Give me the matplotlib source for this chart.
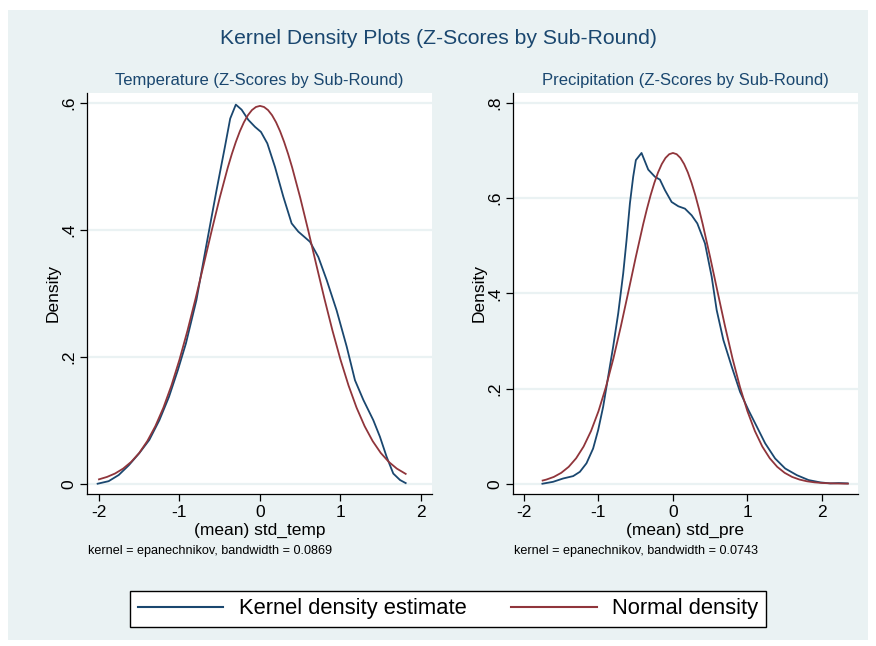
import matplotlib.pyplot as plt
from matplotlib.patches import Rectangle
from matplotlib.lines import Line2D

# ------------------------------
# Data
# ------------------------------
# Temperature panel: kernel density estimate
temp_kde_x = [-2.017, -1.88, -1.755, -1.63, -1.50, -1.375, -1.25, -1.13, -1.02, -0.92,
              -0.79, -0.67, -0.54, -0.435, -0.37, -0.30, -0.228, -0.145, -0.062, 0.012,
              0.091, 0.186, 0.29, 0.393, 0.476, 0.621, 0.725, 0.828, 0.952, 1.077,
              1.18, 1.284, 1.408, 1.49, 1.573, 1.656, 1.74, 1.81]
temp_kde_y = [0.0, 0.004, 0.0137, 0.029, 0.048, 0.069, 0.100, 0.137, 0.179, 0.221,
              0.289, 0.373, 0.462, 0.531, 0.575, 0.597, 0.589, 0.573, 0.562, 0.554,
              0.536, 0.499, 0.452, 0.410, 0.397, 0.381, 0.357, 0.321, 0.273, 0.216,
              0.163, 0.132, 0.100, 0.074, 0.0425, 0.016, 0.0058, 0.001]

# Temperature panel: normal density
temp_norm_x = [-2.0, -1.9, -1.8, -1.7, -1.6, -1.5, -1.4, -1.3, -1.2, -1.1, -1.0,
               -0.9, -0.8, -0.7, -0.6, -0.5, -0.4, -0.35, -0.3, -0.25, -0.2, -0.15, -0.1, -0.05, 0.0,
               0.05, 0.1, 0.15, 0.2, 0.25, 0.3, 0.35, 0.4, 0.5, 0.6, 0.7, 0.8, 0.9, 1.0,
               1.1, 1.2, 1.3, 1.4, 1.5, 1.6, 1.7, 1.81]
temp_norm_y = [0.0069, 0.0107, 0.0161, 0.0238, 0.0344, 0.0485, 0.0671, 0.0906, 0.1197, 0.1547, 0.1954,
               0.2414, 0.2917, 0.3447, 0.3985, 0.4504, 0.4979, 0.5191, 0.5382, 0.5550, 0.5691, 0.5803, 0.5884, 0.5933, 0.595,
               0.5933, 0.5884, 0.5803, 0.5691, 0.5550, 0.5382, 0.5191, 0.4979, 0.4504, 0.3985, 0.3447, 0.2917, 0.2414, 0.1954,
               0.1547, 0.1197, 0.0906, 0.0671, 0.0485, 0.0344, 0.0238, 0.0155]

# Precipitation panel: kernel density estimate
pre_kde_x = [-1.753, -1.61, -1.475, -1.34, -1.25, -1.161, -1.072, -1.004, -0.937, -0.87,
             -0.803, -0.735, -0.668, -0.623, -0.578, -0.534, -0.498, -0.422, -0.332, -0.242,
             -0.175, -0.108, -0.018, 0.072, 0.161, 0.251, 0.327, 0.43, 0.52, 0.587,
             0.677, 0.789, 0.901, 1.013, 1.126, 1.238, 1.372, 1.507, 1.664, 1.821,
             1.978, 2.112, 2.224, 2.345]
pre_kde_y = [0.0, 0.004, 0.011, 0.016, 0.025, 0.043, 0.074, 0.113, 0.162, 0.225,
             0.288, 0.358, 0.442, 0.512, 0.589, 0.645, 0.680, 0.695, 0.660, 0.645,
             0.639, 0.617, 0.592, 0.583, 0.578, 0.564, 0.547, 0.505, 0.435, 0.365,
             0.302, 0.246, 0.193, 0.155, 0.120, 0.085, 0.053, 0.032, 0.018, 0.0077,
             0.0028, 0.0007, 0.0014, 0.0007]

# Precipitation panel: normal density
pre_norm_x = [-1.75, -1.7, -1.6, -1.5, -1.4, -1.3, -1.2, -1.1, -1.0, -0.9, -0.8,
              -0.7, -0.6, -0.5, -0.4, -0.35, -0.3, -0.25, -0.2, -0.15, -0.1, -0.05, 0.0,
              0.05, 0.1, 0.15, 0.2, 0.25, 0.3, 0.35, 0.4, 0.5, 0.6, 0.7, 0.8, 0.9, 1.0, 1.1, 1.2,
              1.3, 1.4, 1.5, 1.6, 1.7, 1.8, 1.9, 2.0, 2.1, 2.2, 2.3, 2.35]
pre_norm_y = [0.0067, 0.0087, 0.0143, 0.0229, 0.0355, 0.0535, 0.0781, 0.1108, 0.1524, 0.2033, 0.2631,
              0.3304, 0.4025, 0.4756, 0.5452, 0.5771, 0.6063, 0.6321, 0.6541, 0.6717, 0.6846, 0.6924, 0.695,
              0.6924, 0.6846, 0.6717, 0.6541, 0.6321, 0.6063, 0.5771, 0.5452, 0.4756, 0.4025, 0.3304, 0.2631,
              0.2033, 0.1524, 0.1108, 0.0781,
              0.0535, 0.0355, 0.0229, 0.0143, 0.0087, 0.0051, 0.0029, 0.0016, 0.0009, 0.0005, 0.0002, 0.0002]

panel_titles = ["Temperature (Z-Scores by Sub-Round)", "Precipitation (Z-Scores by Sub-Round)"]
x_labels = ["(mean) std_temp", "(mean) std_pre"]
notes = ["kernel = epanechnikov, bandwidth = 0.0869", "kernel = epanechnikov, bandwidth = 0.0743"]
x_ticks = [-2, -1, 0, 1, 2]
y_ticks = [[0, 0.2, 0.4, 0.6], [0, 0.2, 0.4, 0.6, 0.8]]
y_ticklabels = [["0", ".2", ".4", ".6"], ["0", ".2", ".4", ".6", ".8"]]

# ------------------------------
# Style
# ------------------------------
BLUE = "#1a476f"
RED = "#90353b"
BG = "#eaf2f3"
plt.rcParams['font.family'] = ['Liberation Sans', 'DejaVu Sans']

W, H = 876, 646
fig = plt.figure(figsize=(W / 100, H / 100), dpi=100)

# outer shaded region (Stata s2color look)
fig.patches.append(Rectangle((8 / W, 1 - 640 / H), 860 / W, 630 / H,
                             transform=fig.transFigure, facecolor=BG,
                             edgecolor="none", zorder=-5))

fig.text(438 / W, 1 - 38 / H, "Kernel Density Plots (Z-Scores by Sub-Round)",
         ha="center", va="center", fontsize=15.2, color=BLUE)

panels = [
    dict(rect=[87 / W, 1 - 494 / H, 345 / W, 401 / H], xlim=(-2.149, 2.137), ylim=(-0.0162, 0.6153),
         kde=(temp_kde_x, temp_kde_y), norm=(temp_norm_x, temp_norm_y)),
    dict(rect=[513 / W, 1 - 494 / H, 345 / W, 401 / H], xlim=(-2.148, 2.485), ylim=(-0.0216, 0.821),
         kde=(pre_kde_x, pre_kde_y), norm=(pre_norm_x, pre_norm_y)),
]

for i, p in enumerate(panels):
    ax = fig.add_axes(p["rect"])
    ax.set_zorder(2)
    ax.set_facecolor("white")
    for yt in y_ticks[i]:
        ax.axhline(yt, color=BG, linewidth=1.6, zorder=1)
    ax.plot(p["kde"][0], p["kde"][1], color=BLUE, linewidth=1.3, zorder=3)
    ax.plot(p["norm"][0], p["norm"][1], color=RED, linewidth=1.3, zorder=3)
    ax.set_xlim(*p["xlim"])
    ax.set_ylim(*p["ylim"])
    ax.set_xticks(x_ticks)
    ax.set_xticklabels([str(t) for t in x_ticks], fontsize=12.5)
    ax.set_yticks(y_ticks[i])
    ax.set_yticklabels(y_ticklabels[i], fontsize=12.5, rotation=90, va="center")
    ax.tick_params(direction="out", length=5, width=0.9, colors="black", pad=3)
    for s in ["top", "right"]:
        ax.spines[s].set_visible(False)
    for s in ["left", "bottom"]:
        ax.spines[s].set_linewidth(0.9)
    ax.set_xlabel(x_labels[i], fontsize=12.5, labelpad=2)
    ax.set_ylabel("Density", fontsize=12.5, labelpad=0)
    ax.set_title(panel_titles[i], fontsize=12, color=BLUE, pad=6)
    x0 = p["rect"][0]
    fig.text(x0 + 1 / W, 1 - 551 / H, notes[i], fontsize=9.1, va="center", ha="left")

handles = [Line2D([], [], color=BLUE, linewidth=1.5), Line2D([], [], color=RED, linewidth=1.5)]
leg = fig.legend(handles, ["Kernel density estimate", "Normal density"], ncol=2,
                 loc="lower left", bbox_to_anchor=(130 / W, 1 - 627 / H, 636 / W, 39 / H),
                 mode="expand", borderaxespad=0, fontsize=15.8, handlelength=3.9,
                 handletextpad=0.7, fancybox=False, edgecolor="black", framealpha=1,
                 borderpad=0.35)
leg.get_frame().set_linewidth(1.0)

fig.savefig("out.png", dpi=100)
